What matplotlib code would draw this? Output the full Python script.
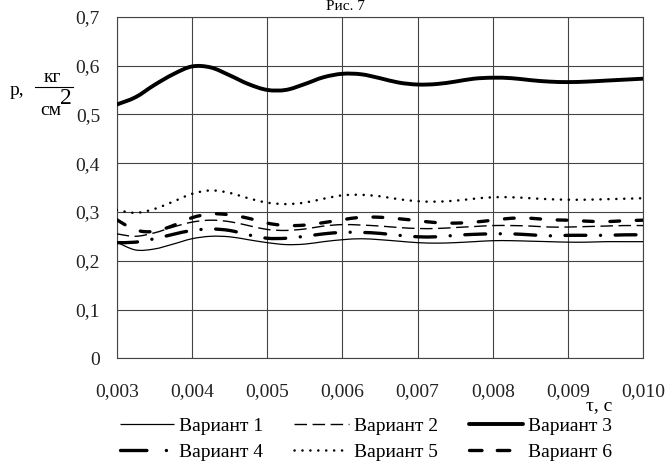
import matplotlib
matplotlib.use('Agg')
import matplotlib.pyplot as plt
from matplotlib.lines import Line2D
from matplotlib.path import Path
from matplotlib.patches import PathPatch
from matplotlib.ticker import FixedLocator, FuncFormatter

plt.rcParams['font.family'] = ['Liberation Serif', 'DejaVu Serif']
plt.rcParams['lines.scale_dashes'] = False

# ---- data ----
t = [0.003, 0.00325, 0.0035, 0.00375, 0.004, 0.00425, 0.0045, 0.00475,
     0.005, 0.00525, 0.0055, 0.00575, 0.006, 0.00625, 0.0065, 0.00675,
     0.007, 0.00725, 0.0075, 0.00775, 0.008, 0.00825, 0.0085, 0.00875,
     0.009, 0.00925, 0.0095, 0.00975, 0.010]

v1 = [0.238, 0.222, 0.224, 0.234, 0.245, 0.250, 0.249, 0.243,
      0.237, 0.233, 0.234, 0.239, 0.243, 0.245, 0.243, 0.240,
      0.237, 0.236, 0.237, 0.239, 0.241, 0.241, 0.240, 0.239,
      0.238, 0.238, 0.239, 0.239, 0.239]
v2 = [0.255, 0.250, 0.257, 0.269, 0.279, 0.283, 0.280, 0.272,
      0.264, 0.262, 0.265, 0.271, 0.274, 0.273, 0.271, 0.268,
      0.266, 0.266, 0.268, 0.270, 0.272, 0.272, 0.271, 0.269,
      0.269, 0.270, 0.271, 0.272, 0.272]
v3 = [0.520, 0.535, 0.560, 0.582, 0.598, 0.596, 0.580, 0.562,
      0.550, 0.550, 0.562, 0.576, 0.583, 0.582, 0.574, 0.565,
      0.561, 0.562, 0.567, 0.573, 0.575, 0.574, 0.570, 0.567,
      0.566, 0.567, 0.569, 0.571, 0.573]
v4 = [0.237, 0.238, 0.245, 0.254, 0.262, 0.265, 0.262, 0.253,
      0.246, 0.246, 0.250, 0.255, 0.258, 0.258, 0.256, 0.252,
      0.249, 0.249, 0.252, 0.254, 0.255, 0.255, 0.253, 0.251,
      0.252, 0.252, 0.252, 0.253, 0.253]
v5 = [0.304, 0.298, 0.306, 0.321, 0.337, 0.344, 0.339, 0.328,
      0.319, 0.316, 0.319, 0.327, 0.334, 0.335, 0.332, 0.326,
      0.322, 0.321, 0.323, 0.327, 0.330, 0.330, 0.328, 0.326,
      0.325, 0.325, 0.326, 0.327, 0.328]
v6 = [0.284, 0.263, 0.260, 0.272, 0.288, 0.296, 0.294, 0.287,
      0.277, 0.272, 0.273, 0.278, 0.284, 0.289, 0.289, 0.286,
      0.282, 0.278, 0.277, 0.279, 0.283, 0.287, 0.287, 0.284,
      0.283, 0.281, 0.280, 0.282, 0.283]

labels = ['Вариант 1', 'Вариант 2', 'Вариант 3', 'Вариант 4', 'Вариант 5', 'Вариант 6']
x_ticks = [0.003, 0.004, 0.005, 0.006, 0.007, 0.008, 0.009, 0.010]
y_ticks = [0, 0.1, 0.2, 0.3, 0.4, 0.5, 0.6, 0.7]

W, H = 669, 463
def px(x, y):
    return (x / W, 1 - y / H)


def smooth_path(xs, ys):
    """Excel-like smoothed line: Catmull-Rom segments drawn as cubic Beziers."""
    n = len(xs)
    verts = [(xs[0], ys[0])]
    codes = [Path.MOVETO]
    for i in range(n - 1):
        x0, y0 = (xs[i - 1], ys[i - 1]) if i > 0 else (xs[i], ys[i])
        x1, y1 = xs[i], ys[i]
        x2, y2 = xs[i + 1], ys[i + 1]
        x3, y3 = (xs[i + 2], ys[i + 2]) if i + 2 < n else (xs[i + 1], ys[i + 1])
        c1 = (x1 + (x2 - x0) / 6, y1 + (y2 - y0) / 6)
        c2 = (x2 - (x3 - x1) / 6, y2 - (y3 - y1) / 6)
        verts += [c1, c2, (x2, y2)]
        codes += [Path.CURVE4] * 3
    return Path(verts, codes)


fig = plt.figure(figsize=(W / 100, H / 100), dpi=100)
ax = fig.add_axes([116.7 / W, 1 - 358.3 / H, (643.3 - 116.7) / W, (358.3 - 16.7) / H])

styles = [
    dict(lw=0.9, ls='-', leg='-', cap='butt'),
    dict(lw=1.0, ls=(0, (9, 4)), leg=(0, (9, 4)), cap='butt'),
    dict(lw=2.8, ls='-', leg='-', cap='round'),
    dict(lw=2.4, ls=(0, (15, 10.5, 0.1, 10.5)), leg=(0, (19, 14, 0.1, 20)), cap='round'),
    dict(lw=1.8, ls=(0, (0.1, 5.6)), leg=(0, (0.1, 5.6)), cap='round'),
    dict(lw=2.4, ls=(0, (7, 12)), leg=(0, (9, 11)), cap='round'),
]
series = [v1, v2, v3, v4, v5, v6]
handles = []
for vals, st, lab in zip(series, styles, labels):
    patch = PathPatch(smooth_path(t, vals), fill=False, edgecolor='black',
                      linewidth=st['lw'], linestyle=st['ls'],
                      capstyle=st['cap'], joinstyle='round',
                      transform=ax.transData, zorder=3)
    ax.add_patch(patch)
    handles.append(Line2D([], [], color='black', lw=st['lw'], ls=st['leg'],
                          dash_capstyle=st['cap'], solid_capstyle=st['cap']))

ax.set_xlim(0.003, 0.010)
ax.set_ylim(0, 0.7)
ax.xaxis.set_major_locator(FixedLocator(x_ticks))
ax.yaxis.set_major_locator(FixedLocator(y_ticks))
ax.xaxis.set_major_formatter(FuncFormatter(lambda v, p: f'{v:.3f}'.replace('.', ',')))
ax.yaxis.set_major_formatter(FuncFormatter(lambda v, p: '0' if abs(v) < 1e-9 else f'{v:.1f}'.replace('.', ',')))
ax.tick_params(axis='both', length=0, labelsize=14, colors='#222222')
ax.tick_params(axis='x', pad=18)
ax.tick_params(axis='y', pad=12)
ax.grid(True, color='#444444', lw=0.8)
ax.set_axisbelow(True)
for s in ax.spines.values():
    s.set_color('#444444')
    s.set_linewidth(0.8)

# y-axis label pieces
fs = 14
fig.text(*px(17, 91), 'р,', fontsize=fs, ha='center', va='center')
fig.text(*px(52, 77), 'кг', fontsize=fs, ha='center', va='center')
fig.add_artist(Line2D([35 / W, 73 / W], [1 - 87 / H, 1 - 87 / H], color='black', lw=0.8))
fig.text(*px(51, 110), 'см', fontsize=fs, ha='center', va='center')
fig.text(*px(66, 98), '2', fontsize=17, ha='center', va='center')

# x-axis label
fig.text(*px(599, 406), 'τ, с', fontsize=fs, ha='center', va='center')

# caption at the top
fig.text(*px(345, 7), 'Рис. 7', fontsize=11, ha='center', va='center')

order = [0, 3, 1, 4, 2, 5]
fig.legend([handles[i] for i in order], [labels[i] for i in order], ncol=3,
           frameon=False, fontsize=fs, handlelength=2.8, handletextpad=0.25,
           columnspacing=1.6, labelspacing=0.45, borderpad=0, borderaxespad=0,
           loc='center', bbox_to_anchor=px(366, 439))

fig.savefig('out.png', dpi=100)
